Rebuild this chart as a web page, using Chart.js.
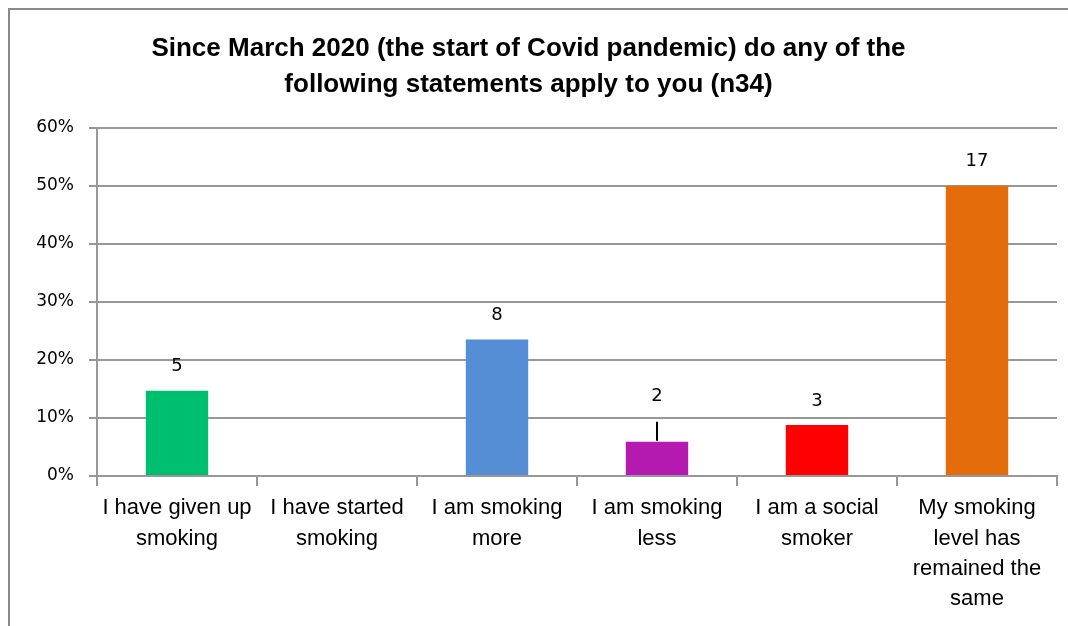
<!DOCTYPE html>
<html>
<head>
<meta charset="utf-8">
<script src="https://cdn.jsdelivr.net/npm/chart.js@4.4.0/dist/chart.umd.min.js"></script>
<style>
  body { margin: 0; background: #fff; }
  #wrap { position: relative; width: 1068px; height: 626px; overflow: hidden; }
  #frame { position: absolute; left: 8px; top: 8px; width: 1200px; height: 700px; border: 2px solid #8a8a8a; pointer-events: none; }
</style>
</head>
<body>
<div id="wrap">
  <canvas id="chart" width="1068" height="626"></canvas>
  <div id="frame"></div>
</div>
<script>
// categories and values
var categories = [
  ['I have given up', 'smoking'],
  ['I have started', 'smoking'],
  ['I am smoking', 'more'],
  ['I am smoking', 'less'],
  ['I am a social', 'smoker'],
  ['My smoking', 'level has', 'remained the', 'same']
]
var percents = [14.7, 0, 23.5, 5.9, 8.8, 50.0]
var counts = [5, 0, 8, 2, 3, 17]
var barColors = ['#00be70', '#ffffff', '#558ed5', '#b41aaf', '#ff0000', '#e46c0a']
var yTicks = [0, 10, 20, 30, 40, 50, 60]

var titleLines = ['Since March 2020 (the start of Covid pandemic) do any of the', 'following statements apply to you (n34)']

var sans = '"Liberation Sans", Arial, sans-serif'
var verd = '"DejaVu Sans", Verdana, sans-serif'

// counts above bars; the "2" gets lifted with a leader line
var countLabels = {
  id: 'countLabels',
  afterDatasetsDraw: function(chart) {
    var ctx = chart.ctx
    var meta = chart.getDatasetMeta(0)
    ctx.save()
    ctx.font = '18px ' + verd
    ctx.fillStyle = '#000'
    ctx.textAlign = 'center'
    ctx.textBaseline = 'middle'
    meta.data.forEach(function(bar, i) {
      if (!counts[i]) return
      var lift = 24
      if (i == 3) {
        lift = 45
        ctx.strokeStyle = '#000'
        ctx.lineWidth = 2
        ctx.beginPath()
        ctx.moveTo(bar.x, bar.y - 1)
        ctx.lineTo(bar.x, bar.y - 20)
        ctx.stroke()
      }
      ctx.fillText(String(counts[i]), bar.x, bar.y - lift)
    })
    ctx.restore()
  }
}

var ctx = document.getElementById('chart')
var chart = new Chart(ctx, {
  type: 'bar',
  data: {
    labels: categories,
    datasets: [{
      data: percents,
      backgroundColor: barColors,
      borderWidth: 0,
      categoryPercentage: 1,
      barPercentage: 0.39
    }]
  },
  options: {
    responsive: false,
    animation: false,
    layout: { padding: { left: 0, right: 11, top: 0, bottom: 0 } },
    plugins: {
      legend: { display: false },
      tooltip: { enabled: false },
      title: {
        display: true,
        text: titleLines,
        color: '#000',
        font: { family: sans, size: 26, weight: 'bold', lineHeight: 1.38 },
        padding: { top: 31, bottom: 25 }
      }
    },
    scales: {
      x: {
        grid: { display: true, drawOnChartArea: false, color: '#989898', lineWidth: 2, tickLength: 10, offset: true },
        border: { color: '#989898', width: 2 },
        ticks: { color: '#000', font: { family: sans, size: 22, lineHeight: 1.38 }, maxRotation: 0, autoSkip: false, padding: 7 },
        afterFit: function(s) { s.height = 150 }
      },
      y: {
        min: 0,
        max: 60,
        afterBuildTicks: function(s) { s.ticks = yTicks.map(function(v) { return { value: v } }) },
        grid: { color: '#989898', lineWidth: 2, tickLength: 8 },
        border: { color: '#989898', width: 2 },
        ticks: {
          color: '#000',
          font: { family: verd, size: 17 },
          padding: 15,
          callback: function(v) { return v + '%' }
        },
        afterFit: function(s) { s.width = 97 }
      }
    }
  },
  plugins: [countLabels]
})
</script>
</body>
</html>
